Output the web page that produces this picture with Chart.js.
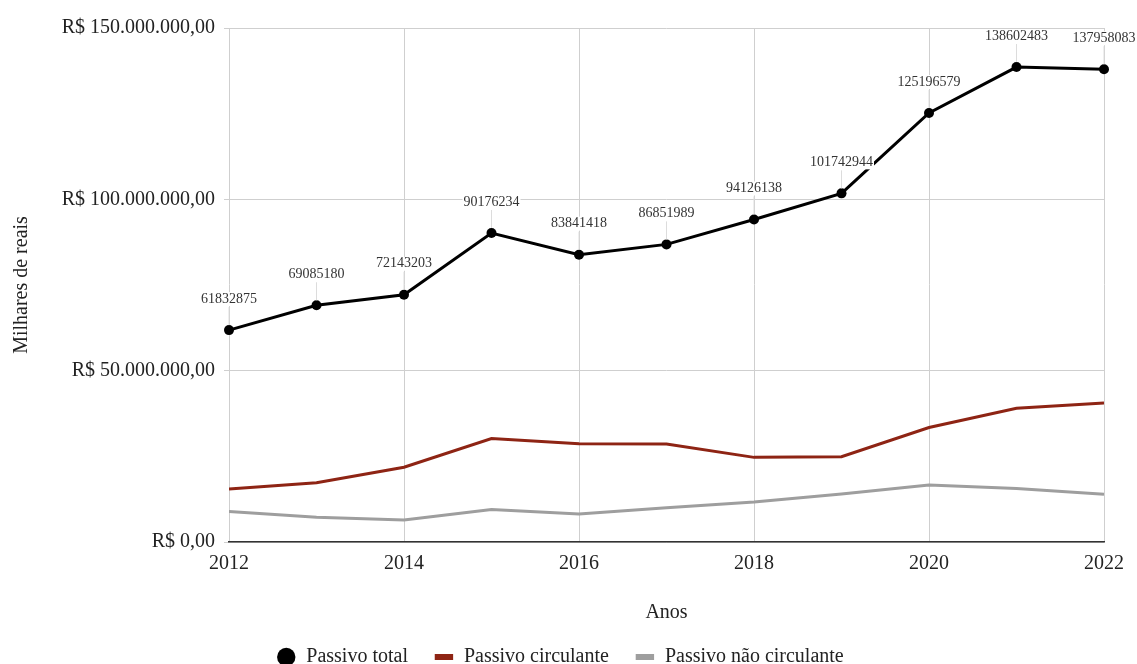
<!DOCTYPE html>
<html lang="pt-BR">
<head>
<meta charset="utf-8">
<title>Passivo</title>
<script src="https://cdn.jsdelivr.net/npm/chart.js@4.4.1/dist/chart.umd.min.js"></script>
<style>
  html, body { margin: 0; padding: 0; background: #fff; }
  #wrap { width: 1137px; height: 664px; position: relative; }
</style>
</head>
<body>
<div id="wrap"><canvas id="passivoChart"></canvas></div>
<script>
// Values (R$)
const anos = [2012, 2013, 2014, 2015, 2016, 2017, 2018, 2019, 2020, 2021, 2022];
const passivoTotal = [61832875, 69085180, 72143203, 90176234, 83841418, 86851989, 94126138, 101742944, 125196579, 138602483, 137958083];
const passivoCirculante = [15500000, 17300000, 21800000, 30200000, 28700000, 28600000, 24700000, 24900000, 33400000, 39000000, 40600000];
const passivoNaoCirculante = [8900000, 7200000, 6400000, 9500000, 8200000, 10000000, 11700000, 14000000, 16600000, 15600000, 13900000];
const yTicks = [0, 50000000, 100000000, 150000000];

const SERIF = "'Liberation Serif', 'Times New Roman', serif";
const TEXT = '#222';

function reais(v) {
    return 'R$ ' + Math.round(v).toString().replace(/\B(?=(\d{3})+(?!\d))/g, '.') + ',00';
}

function pontos(values) {
    return anos.map((a, i) => ({ x: a, y: values[i] }));
}

// value labels over the "Passivo total" points, with a thin leader line
const rotulosPlugin = {
    id: 'rotulos',
    afterDatasetsDraw(chart) {
        const ctx = chart.ctx;
        const meta = chart.getDatasetMeta(0);
        ctx.save();
        ctx.font = '14px ' + SERIF;
        ctx.textAlign = 'center';
        ctx.textBaseline = 'middle';
        meta.data.forEach((pt, i) => {
            const txt = String(passivoTotal[i]);
            const ly = pt.y - 31;
            ctx.strokeStyle = '#dcdcdc';
            ctx.lineWidth = 1;
            ctx.beginPath();
            ctx.moveTo(pt.x, ly + 8);
            ctx.lineTo(pt.x, pt.y - 5);
            ctx.stroke();
            const w = ctx.measureText(txt).width;
            ctx.fillStyle = '#fff';
            ctx.fillRect(pt.x - w / 2 - 1, ly - 7, w + 2, 14);
            ctx.fillStyle = '#333';
            ctx.fillText(txt, pt.x, ly);
        });
        ctx.restore();
    }
};

function initPassivoChart() {
    const ctx = document.getElementById('passivoChart').getContext('2d');
    new Chart(ctx, {
        type: 'line',
        data: {
            datasets: [{
                label: 'Passivo total',
                data: pontos(passivoTotal),
                borderColor: '#000',
                backgroundColor: '#000',
                borderWidth: 3,
                pointRadius: 5,
                pointBackgroundColor: '#000',
                pointBorderWidth: 0,
                tension: 0,
                clip: false
            }, {
                label: 'Passivo circulante',
                data: pontos(passivoCirculante),
                borderColor: '#8e2414',
                backgroundColor: '#8e2414',
                borderWidth: 3,
                pointRadius: 0,
                tension: 0
            }, {
                label: 'Passivo não circulante',
                data: pontos(passivoNaoCirculante),
                borderColor: '#9e9e9e',
                backgroundColor: '#9e9e9e',
                borderWidth: 3,
                pointRadius: 0,
                tension: 0
            }]
        },
        options: {
            responsive: true,
            maintainAspectRatio: false,
            animation: false,
            layout: { padding: { top: 28, left: 16, right: 33, bottom: -13 } },
            scales: {
                x: {
                    type: 'linear',
                    min: 2012,
                    max: 2022,
                    afterFit(scale) { scale.height = 79; },
                    ticks: {
                        stepSize: 2,
                        color: TEXT,
                        padding: 10,
                        font: { family: SERIF, size: 20 },
                        callback: v => String(v)
                    },
                    grid: { color: '#cfcfcf', lineWidth: 1, drawTicks: false },
                    border: { color: '#333', width: 1.5 },
                    title: {
                        display: true,
                        text: 'Anos',
                        color: TEXT,
                        padding: { top: 0, bottom: -4 },
                        font: { family: SERIF, size: 20 }
                    }
                },
                y: {
                    min: 0,
                    max: 150000000,
                    afterFit(scale) { scale.width = 229 - 16; },
                    afterBuildTicks(scale) { scale.ticks = yTicks.map(v => ({ value: v })); },
                    ticks: {
                        color: TEXT,
                        padding: 9,
                        font: { family: SERIF, size: 20 },
                        callback: v => reais(v)
                    },
                    grid: { color: '#cfcfcf', lineWidth: 1, tickLength: 5 },
                    border: { display: false },
                    title: {
                        display: true,
                        text: 'Milhares de reais',
                        color: TEXT,
                        padding: { top: -6, bottom: 0 },
                        font: { family: SERIF, size: 20 }
                    }
                }
            },
            plugins: {
                tooltip: { enabled: false },
                legend: {
                    position: 'bottom',
                    labels: {
                        usePointStyle: true,
                        boxHeight: 13,
                        padding: 26,
                        color: TEXT,
                        font: { family: SERIF, size: 20 },
                        generateLabels(chart) {
                            const items = Chart.defaults.plugins.legend.labels.generateLabels(chart);
                            return items.map((it, i) => {
                                const ds = chart.data.datasets[i];
                                if (i === 0) {
                                    it.pointStyle = 'circle';
                                    it.fillStyle = '#000';
                                    it.strokeStyle = '#000';
                                    it.lineWidth = 0;
                                } else {
                                    it.pointStyle = 'line';
                                    it.strokeStyle = ds.borderColor;
                                    it.lineWidth = 6;
                                }
                                it.fontColor = TEXT;
                                return it;
                            });
                        }
                    }
                }
            }
        },
        plugins: [rotulosPlugin]
    });
}

document.addEventListener('DOMContentLoaded', initPassivoChart);
</script>
</body>
</html>
